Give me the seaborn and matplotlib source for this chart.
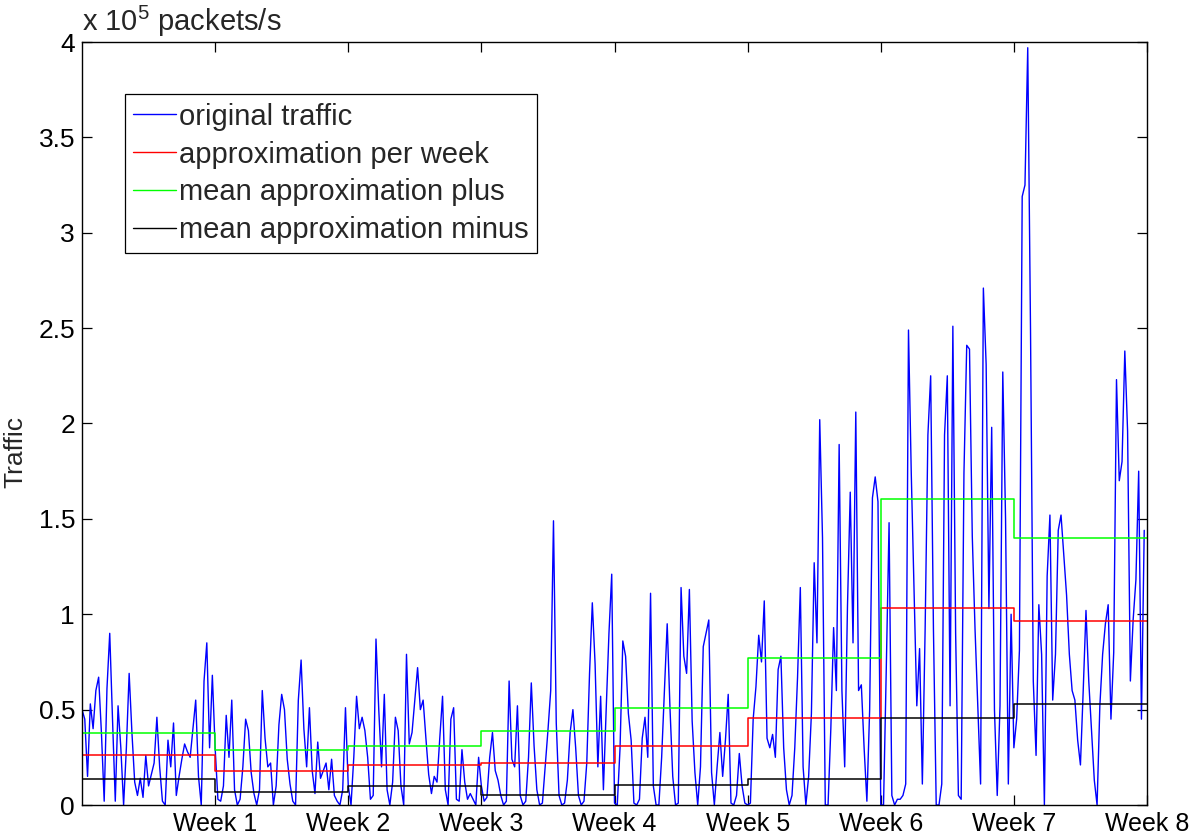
import matplotlib
matplotlib.use("Agg")

import numpy as np
import matplotlib.pyplot as plt
import seaborn as sns

# ---------------------------------------------------------------------------
# Data (traffic in units of 1e5 packets/s, 48 samples per week)
# ---------------------------------------------------------------------------
week1_traffic = [0.50, 0.45, 0.15, 0.53, 0.40, 0.60, 0.67, 0.38, 0.02, 0.61, 0.90, 0.45,
                 0.02, 0.52, 0.30, 0.00, 0.30, 0.69, 0.38, 0.12, 0.05, 0.14, 0.04, 0.26,
                 0.10, 0.16, 0.22, 0.46, 0.20, 0.02, 0.00, 0.34, 0.20, 0.43, 0.05, 0.15,
                 0.24, 0.32, 0.28, 0.25, 0.40, 0.55, 0.15, 0.00, 0.65, 0.85, 0.30, 0.68]
week2_traffic = [0.30, 0.03, 0.02, 0.10, 0.47, 0.25, 0.55, 0.08, 0.00, 0.03, 0.20, 0.45,
                 0.39, 0.17, 0.06, 0.00, 0.08, 0.60, 0.35, 0.20, 0.22, 0.00, 0.10, 0.42,
                 0.58, 0.50, 0.24, 0.11, 0.02, 0.00, 0.55, 0.76, 0.40, 0.20, 0.51, 0.18,
                 0.06, 0.33, 0.14, 0.18, 0.22, 0.08, 0.24, 0.05, 0.02, 0.00, 0.08, 0.51]
week3_traffic = [0.10, 0.00, 0.25, 0.57, 0.40, 0.46, 0.39, 0.25, 0.03, 0.05, 0.87, 0.50,
                 0.20, 0.58, 0.08, 0.00, 0.12, 0.46, 0.39, 0.10, 0.00, 0.79, 0.32, 0.38,
                 0.55, 0.72, 0.50, 0.55, 0.35, 0.16, 0.06, 0.15, 0.12, 0.35, 0.57, 0.08,
                 0.00, 0.45, 0.51, 0.03, 0.02, 0.29, 0.12, 0.03, 0.06, 0.03, 0.00, 0.25]
week4_traffic = [0.10, 0.02, 0.04, 0.25, 0.38, 0.18, 0.13, 0.05, 0.00, 0.02, 0.65, 0.24,
                 0.20, 0.52, 0.05, 0.00, 0.02, 0.25, 0.64, 0.31, 0.08, 0.00, 0.01, 0.20,
                 0.39, 0.60, 1.49, 0.43, 0.05, 0.00, 0.01, 0.13, 0.38, 0.50, 0.30, 0.05,
                 0.00, 0.02, 0.22, 0.69, 1.06, 0.74, 0.20, 0.57, 0.08, 0.50, 0.90, 1.21]
week5_traffic = [0.01, 0.00, 0.30, 0.86, 0.78, 0.48, 0.34, 0.01, 0.00, 0.03, 0.35, 0.46,
                 0.25, 1.11, 0.10, 0.00, 0.00, 0.25, 0.60, 0.95, 0.51, 0.15, 0.00, 0.01,
                 1.14, 0.78, 0.69, 1.13, 0.44, 0.17, 0.00, 0.20, 0.83, 0.90, 0.97, 0.17,
                 0.00, 0.20, 0.38, 0.15, 0.34, 0.58, 0.01, 0.00, 0.05, 0.27, 0.10, 0.01]
week6_traffic = [0.00, 0.01, 0.45, 0.62, 0.89, 0.75, 1.07, 0.35, 0.30, 0.37, 0.25, 0.71,
                 0.78, 0.30, 0.08, 0.00, 0.05, 0.30, 0.67, 1.14, 0.20, 0.00, 0.15, 0.48,
                 1.27, 0.85, 2.02, 1.40, 0.00, 0.00, 0.40, 0.93, 0.60, 1.89, 0.60, 0.20,
                 1.04, 1.64, 0.85, 2.06, 0.60, 0.63, 0.30, 0.02, 0.50, 1.61, 1.72, 1.59]
week7_traffic = [0.00, 0.00, 0.72, 1.48, 0.05, 0.00, 0.03, 0.03, 0.05, 0.11, 2.49, 1.74,
                 1.13, 0.52, 0.82, 0.11, 0.92, 1.94, 2.25, 0.92, 0.00, 0.00, 0.11, 1.94,
                 2.25, 0.52, 2.51, 0.90, 0.05, 0.03, 1.74, 2.41, 2.39, 1.41, 0.92, 0.52,
                 0.11, 2.71, 2.31, 1.03, 1.98, 0.50, 0.05, 0.52, 2.27, 1.50, 0.11, 1.00]
week8_traffic = [0.30, 0.45, 0.81, 3.19, 3.25, 3.97, 2.49, 0.65, 0.26, 1.05, 0.79, 0.00,
                 1.20, 1.52, 0.55, 0.79, 1.44, 1.52, 1.31, 1.10, 0.79, 0.60, 0.55, 0.34,
                 0.21, 0.60, 1.02, 0.65, 0.39, 0.13, 0.00, 0.52, 0.79, 0.95, 1.05, 0.45,
                 0.80, 2.23, 1.70, 1.80, 2.38, 1.96, 0.65, 0.97, 1.18, 1.75, 0.45, 1.44]

approx_per_week = [0.26, 0.18, 0.21, 0.22, 0.31, 0.455, 1.035, 0.965]
approx_plus     = [0.375, 0.29, 0.31, 0.39, 0.51, 0.77, 1.605, 1.40]
approx_minus    = [0.135, 0.07, 0.10, 0.05, 0.105, 0.135, 0.455, 0.53]

week_labels = ["Week 1", "Week 2", "Week 3", "Week 4",
               "Week 5", "Week 6", "Week 7", "Week 8"]
y_ticks = [0, 0.5, 1, 1.5, 2, 2.5, 3, 3.5, 4]
y_tick_labels = ["0", "0.5", "1", "1.5", "2", "2.5", "3", "3.5", "4"]

# ---------------------------------------------------------------------------
# Style
# ---------------------------------------------------------------------------
sns.set_theme(style="ticks")
plt.rcParams["font.family"] = ["Liberation Sans", "DejaVu Sans"]
plt.rcParams["mathtext.fontset"] = "custom"
plt.rcParams["mathtext.rm"] = "Liberation Sans"
plt.rcParams["mathtext.it"] = "Liberation Sans"
FS = 18
FS_LEG = 21

traffic = np.concatenate([week1_traffic, week2_traffic, week3_traffic, week4_traffic,
                          week5_traffic, week6_traffic, week7_traffic, week8_traffic])
n_per_week = len(week1_traffic)
t = np.arange(len(traffic)) / n_per_week

weeks_edges = np.arange(len(approx_per_week) + 1)


def _steps(vals):
    return list(vals) + [vals[-1]]


fig = plt.figure(figsize=(12, 8.38), dpi=100)
ax = fig.add_axes([82 / 1200, 33 / 838, 1065 / 1200, 763 / 838])

sns.lineplot(x=t, y=traffic, ax=ax, color="#0000ff", lw=1.0,
             label="original traffic", estimator=None, sort=False)
sns.lineplot(x=weeks_edges, y=_steps(approx_per_week), ax=ax, color="#ff0000", lw=1.1,
             drawstyle="steps-post", label="approximation per week", estimator=None)
sns.lineplot(x=weeks_edges, y=_steps(approx_plus), ax=ax, color="#00ff00", lw=1.1,
             drawstyle="steps-post", label="mean approximation plus", estimator=None)
sns.lineplot(x=weeks_edges, y=_steps(approx_minus), ax=ax, color="black", lw=1.1,
             drawstyle="steps-post", label="mean approximation minus", estimator=None)

ax.set_xlim(0, 8)
ax.set_ylim(0, 4)
ax.set_xticks(np.arange(1, 9))
ax.set_xticklabels(week_labels, fontsize=FS)
ax.set_yticks(y_ticks)
ax.set_yticklabels(y_tick_labels, fontsize=FS + 1)
ax.tick_params(direction="in", length=7, width=0.9, top=True, right=True,
               colors="black", pad=5)
for sp in ax.spines.values():
    sp.set_visible(True)
    sp.set_color("black")
    sp.set_linewidth(1.0)
ax.set_xlabel("")
ax.set_ylabel("")

leg = ax.legend(loc="upper left", bbox_to_anchor=(0.040, 0.932), fontsize=FS_LEG,
                frameon=True, fancybox=False, framealpha=1, edgecolor="black",
                handlelength=1.45, handletextpad=0.1, borderpad=0.3,
                labelspacing=0.34, borderaxespad=0)
leg.get_frame().set_linewidth(0.9)
for line in leg.get_lines():
    line.set_linewidth(1.0)

fig.text(82 / 1200, 1 - 31 / 838, r"x 10$^5$ packets/s", fontsize=FS + 3,
         ha="left", va="baseline")
fig.text(3 / 1200, 1 - 452 / 838, "Traffic", fontsize=FS + 1, rotation=90,
         ha="left", va="center")

fig.savefig("out.png", dpi=100)
